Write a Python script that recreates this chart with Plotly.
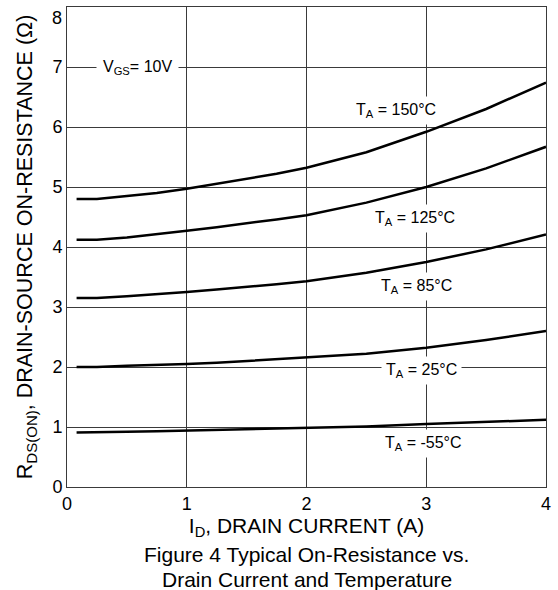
import plotly.graph_objects as go

# Drain current (A)
drain_current = [0.08, 0.25, 0.5, 0.75, 1.0, 1.25, 1.5, 1.75, 2.0, 2.5, 3.0, 3.5, 4.0]

# On-resistance (ohm) per ambient temperature
r_150 = [4.80, 4.80, 4.85, 4.90, 4.97, 5.05, 5.13, 5.22, 5.32, 5.58, 5.92, 6.30, 6.74]
r_125 = [4.12, 4.12, 4.16, 4.21, 4.27, 4.33, 4.39, 4.46, 4.53, 4.74, 5.00, 5.31, 5.67]
r_85 = [3.15, 3.15, 3.18, 3.21, 3.25, 3.29, 3.33, 3.38, 3.43, 3.57, 3.75, 3.96, 4.21]
r_25 = [2.00, 2.00, 2.02, 2.03, 2.05, 2.07, 2.10, 2.13, 2.15, 2.22, 2.32, 2.45, 2.60]
r_m55 = [0.91, 0.91, 0.92, 0.93, 0.94, 0.95, 0.96, 0.97, 0.98, 1.01, 1.05, 1.09, 1.12]

series = [
    ("T<sub>A</sub> = 150°C", r_150, 2.75, 6.28),
    ("T<sub>A</sub> = 125°C", r_125, 2.91, 4.47),
    ("T<sub>A</sub> = 85°C", r_85, 2.92, 3.35),
    ("T<sub>A</sub> = 25°C", r_25, 2.96, 1.95),
    ("T<sub>A</sub> = -55°C", r_m55, 2.98, 0.73),
]

x_ticks = [0, 1, 2, 3, 4]
y_ticks = [0, 1, 2, 3, 4, 5, 6, 7, 8]

FONT = "Liberation Sans, Arial, sans-serif"
GRID = "#3a3a3a"
TICK_SIZE = 18

fig = go.Figure()
annotations = []
for label, vals, ax, ay in series:
    fig.add_trace(go.Scatter(x=drain_current, y=vals, mode="lines",
                             line=dict(color="black", width=2.5),
                             name=label, showlegend=False, hoverinfo="skip"))
    annotations.append(dict(x=ax, y=ay, xref="x", yref="y", text=label,
                            showarrow=False, bgcolor="white", borderpad=4,
                            font=dict(size=16, color="black", family=FONT)))

annotations.append(dict(x=0.59, y=7.0, xref="x", yref="y",
                        text="V<sub>GS</sub>= 10V", showarrow=False,
                        bgcolor="white", borderpad=6,
                        font=dict(size=16, color="black", family=FONT)))

# top y tick label (placed just below the top edge, as in the reference)
annotations.append(dict(x=0, y=y_ticks[-1], xref="paper", yref="y",
                        text=str(y_ticks[-1]), showarrow=False,
                        xanchor="right", yanchor="top", xshift=-3, yshift=1,
                        font=dict(size=TICK_SIZE, color="black", family=FONT)))

annotations.append(dict(x=0.5, y=-0.14, xref="paper", yref="paper",
                        text="Figure 4 Typical On-Resistance vs.",
                        showarrow=False, xanchor="center", yanchor="middle",
                        font=dict(size=21, color="black", family=FONT)))
annotations.append(dict(x=0.5, y=-0.193, xref="paper", yref="paper",
                        text="Drain Current and Temperature",
                        showarrow=False, xanchor="center", yanchor="middle",
                        font=dict(size=21, color="black", family=FONT)))

fig.update_layout(
    width=558, height=590,
    margin=dict(l=67, r=12, t=7, b=103),
    paper_bgcolor="white", plot_bgcolor="white",
    font=dict(family=FONT, color="black"),
    annotations=annotations,
    xaxis=dict(range=[0, 4], tickvals=x_ticks, ticks="", showgrid=True,
               gridcolor=GRID, gridwidth=1, showline=True, linecolor=GRID,
               linewidth=1, mirror=True, zeroline=False,
               tickfont=dict(size=TICK_SIZE),
               title=dict(text="I<sub>D</sub>, DRAIN CURRENT (A)",
                          font=dict(size=21), standoff=5)),
    yaxis=dict(range=[0, 8], tickvals=y_ticks[:-1], ticks="", showgrid=True,
               gridcolor=GRID, gridwidth=1, showline=True, linecolor=GRID,
               linewidth=1, mirror=True, zeroline=False,
               tickfont=dict(size=TICK_SIZE),
               title=dict(text="R<sub>DS(ON)</sub>, DRAIN-SOURCE ON-RESISTANCE (Ω)",
                          font=dict(size=21.5), standoff=13)),
)

fig.write_html("out.html")
